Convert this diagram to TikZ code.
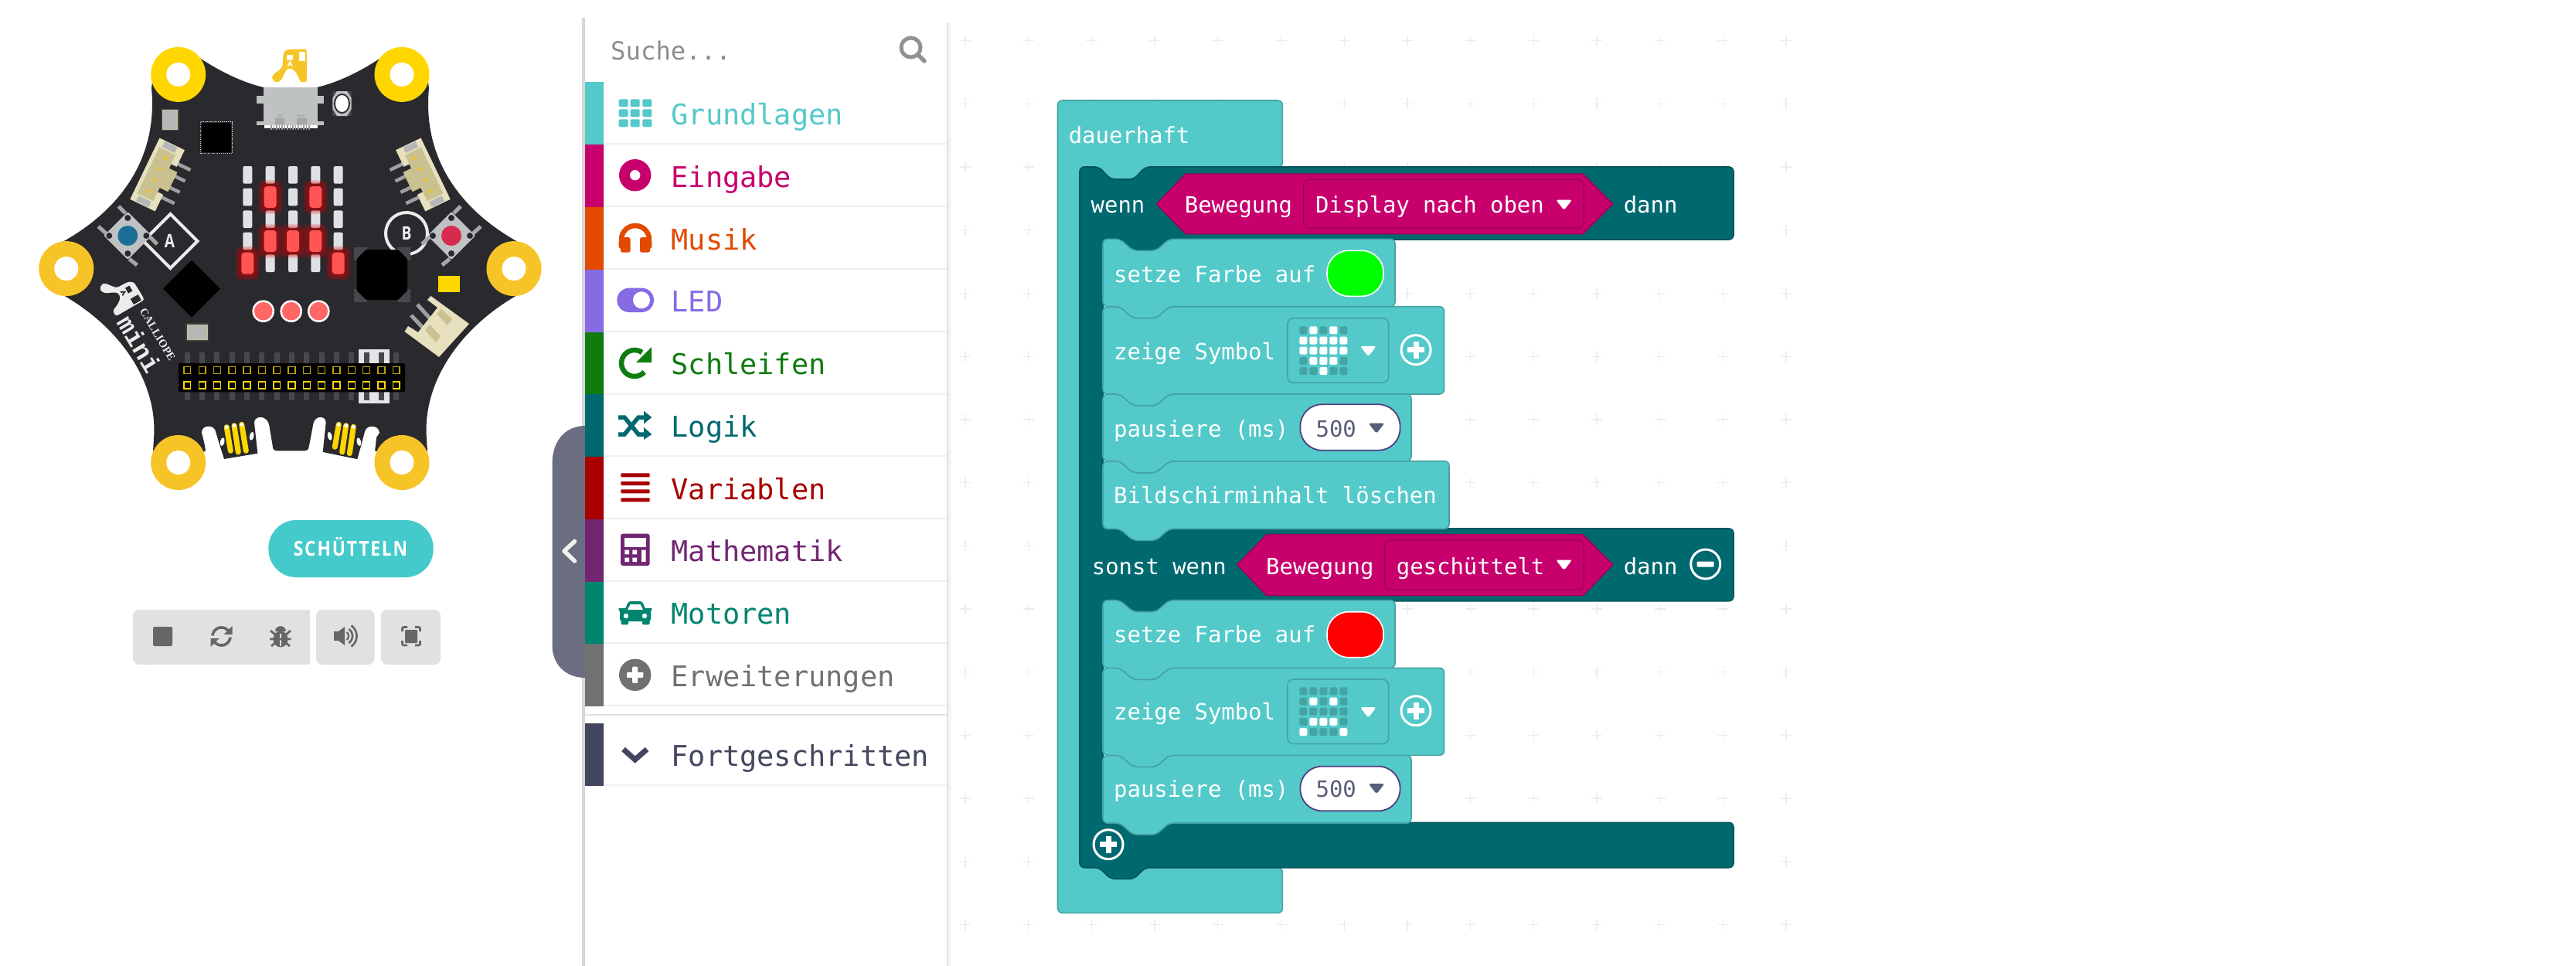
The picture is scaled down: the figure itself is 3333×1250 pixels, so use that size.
\documentclass[tikz,border=0pt]{standalone}
\usepackage{fontspec}
\setmainfont{DejaVu Sans}
\newfontfamily\monof{DejaVu Sans Mono}
\newfontfamily\shakef[LetterSpace=8]{Open Sans}
\newfontfamily\openf{Open Sans}
\newfontfamily\slabf{Liberation Mono}
\newfontfamily\serf{Liberation Serif}
\definecolor{pcb}{HTML}{2A292E}
\definecolor{gold}{HTML}{F7C428}
\definecolor{brightgold}{HTML}{FFD600}
\definecolor{silver}{HTML}{BFC2C3}
\definecolor{ledoffc}{HTML}{E0E1E3}
\definecolor{ledon}{HTML}{FF5555}
\definecolor{cream}{HTML}{E6E0BF}
\definecolor{creamdk}{HTML}{C9C190}
\definecolor{padgray}{HTML}{47484C}
\definecolor{smallgray}{HTML}{B5B7B6}
\definecolor{pillc}{HTML}{45CACB}
\definecolor{toolbg}{HTML}{E0E1E3}
\definecolor{toolic}{HTML}{666666}
\definecolor{tabc}{HTML}{6B6E80}
\definecolor{sepl}{HTML}{EEF1F1}
\definecolor{borderc}{HTML}{D6D6D6}
\definecolor{btnblue}{HTML}{1B6F96}
\definecolor{btnred}{HTML}{D62B4F}
\definecolor{cgrund}{HTML}{54C9C9}
\definecolor{ceing}{HTML}{C7006E}
\definecolor{cmus}{HTML}{E24A00}
\definecolor{cled}{HTML}{866BE4}
\definecolor{cschl}{HTML}{107C10}
\definecolor{clog}{HTML}{006970}
\definecolor{cvar}{HTML}{A80000}
\definecolor{cmath}{HTML}{712672}
\definecolor{cmot}{HTML}{00856F}
\definecolor{cerw}{HTML}{717171}
\definecolor{cfort}{HTML}{434660}
\definecolor{tealedge}{HTML}{45A3A3}
\definecolor{darkedge}{HTML}{00555B}
\definecolor{magedge}{HTML}{9E0058}
\definecolor{gridc}{HTML}{EBEEEE}
\definecolor{numc}{HTML}{575E75}
\definecolor{fieldedge}{HTML}{4F3F80}
\tikzset{
  x=1pt,y=-1pt,
  toolboxtext/.style={anchor=base west,inner sep=0pt,font=\monof\fontsize{36.9}{40}\selectfont},
  blocktext/.style={anchor=base west,inner sep=0pt,text=white,font=\monof\fontsize{28.9}{32}\selectfont},
  stmtblock/.style={fill=cgrund,draw=tealedge,line width=1.6pt,rounded corners=6pt},
  hexblock/.style={fill=ceing,draw=magedge,line width=1.5pt,line join=round},
  dropbox/.style={fill=ceing,draw=magedge,line width=1.5pt,rounded corners=7pt},
  numfield/.style={fill=white,draw=fieldedge,line width=1.8pt,rounded corners=28pt},
}
% plotted arc: style, cx, cy, r, from, to
\newcommand\arcp[6]{\draw[#1] plot[smooth,samples=24,domain=#5:#6] ({#2+#4*cos(\x)},{#3-#4*sin(\x)});}
% statement block: right, top, bottom
\newcommand\stmt[3]{\draw[stmtblock] (1427,#2) -- (1449,#2) -- (1466,#2+15) -- (1496,#2+15) -- (1512.7,#2) -- (#1,#2) -- (#1,#3) -- (1512.7,#3) -- (1496,#3+15) -- (1466,#3+15) -- (1449,#3) -- (1427,#3) -- cycle;}
% dropdown arrow: cx, top, colour
\newcommand\ddarrow[3]{\fill[#3,rounded corners=3pt] (#1-10.5,#2-.5) -- (#1+10.5,#2-.5) -- (#1,#2+13) -- cycle;}
% plus/minus circle
\newcommand\pluscirc[2]{\draw[white,line width=3pt] (#1,#2) circle[radius=19];\fill[white] (#1-11,#2-3.5) rectangle (#1+11,#2+3.5);\fill[white] (#1-3.5,#2-11) rectangle (#1+3.5,#2+11);}
\newcommand\minuscirc[2]{\draw[white,line width=3pt] (#1,#2) circle[radius=19];\fill[white,rounded corners=1pt] (#1-11,#2-3.5) rectangle (#1+11,#2+3.5);}
% symbol field: top y, first row y, pattern
\newcommand\symgrid[3]{%
  \draw[tealedge,line width=1.6pt,fill=cgrund,rounded corners=8pt] (1665.7,#1) rectangle (1796.7,#1+83.5);
  \foreach \v [count=\i from 0] in {#3} {
    \pgfmathtruncatemacro\rr{int(\i/5)}
    \pgfmathtruncatemacro\cc{mod(\i,5)}
    \ifnum\v=1 \def\cellc{white}\else\def\cellc{tealedge}\fi
    \fill[\cellc,rounded corners=2pt] (1681.3+13*\cc,#2-5+13.2*\rr) rectangle (1691.3+13*\cc,#2+5+13.2*\rr);
  }
}
% LED
\newcommand\ledoff[2]{\fill[ledoffc,rounded corners=2pt] (#1-6,#2-11.3) rectangle (#1+6,#2+11.3);}
\newcommand\ledlit[2]{%
  \foreach \e in {8,6.5,5,3.5,2} {\fill[red!85!black,opacity=.15,rounded corners=7pt] (#1-8-\e,#2-14-\e) rectangle (#1+8+\e,#2+14+\e);}
  \fill[ledon,rounded corners=4pt] (#1-8,#2-14) rectangle (#1+8,#2+14);}
% Calliope logo: cx, cy, rotation, scale, fill, window colour
\newcommand\clogo[6]{\begin{scope}[shift={(#1,#2)},rotate=#3,scale=#4]
  \fill[#5,rounded corners=3pt] (-22,13) .. controls (-17,8) and (-9,4) .. (-8.5,-3) -- (-8,-15) -- (-4,-21) -- (11,-21.5) -- (22.7,-21.5) -- (22.7,21.3) -- (14.3,21.3) .. controls (12,14) and (8,6) .. (1,3) .. controls (-4,5) and (-7,11) .. (-9,17) -- (-14,21.5) -- (-19,21.3) -- (-22,17) -- cycle;
  \fill[#6] (12.7,-17.7) rectangle (21,-6.3);
  \fill[#6] (-3,-13.7) rectangle (5,-7.5);
  \fill[#6] (1,-6.5) -- (4.5,0.5) -- (2.5,0.5) -- (1,-2.5) -- (-.5,0.5) -- (-2.5,0.5) -- cycle;
\end{scope}}
% push button: cx, cy, mirror, colour
\newcommand\pushbtn[4]{\begin{scope}[shift={(#1,#2)},xscale=#3]
  \draw[line width=5pt,gray!70] (-12,-38) -- (-3,-29) (-38,-12) -- (-27,-2) (12,38) -- (2,30) (38,11) -- (29,2);
  \fill[silver,rounded corners=2pt] (0,-31) -- (31,0) -- (0,31) -- (-31,0) -- cycle;
  \fill[pcb] (0,-23) circle[radius=4] (0,23) circle[radius=4] (-24,0) circle[radius=4] (24,0) circle[radius=4];
  \fill[#4] (0,0) circle[radius=13];
\end{scope}}
% side connector
\newcommand\sideconn[1]{\begin{scope}[#1]
  \draw[line width=4.5pt,gray!75] (14,-24) -- (36,-24) (14,-8) -- (36,-8) (14,8) -- (36,8) (14,24) -- (36,24);
  \fill[cream] (-18,-44) -- (18,-44) -- (18,-20) -- (10,-20) -- (10,20) -- (18,20) -- (18,44) -- (-18,44) -- cycle;
  \fill[creamdk] (-13,-33) rectangle (10,33);
  \fill[creamdk] (10,-14) rectangle (22,14);
  \fill[smallgray] (-10,-43) rectangle (8,-35);
  \fill[smallgray] (-10,35) rectangle (8,43);
  \fill[gold] (-2,-26) rectangle (2,-22) (-2,-10) rectangle (2,-6) (-2,6) rectangle (2,10) (-2,22) rectangle (2,26);
\end{scope}}
\begin{document}
\begin{tikzpicture}
\useasboundingbox (0,0) rectangle (3333,1250);
\fill[white] (0,0) rectangle (3333,1250);

% ---------- workspace crosses
\foreach \k in {0,...,13} {\foreach \m in {0,...,14} {
  \draw[gridc,line width=1.3pt] (1249+81.7*\k-7,52.7+81.7*\m) -- (1249+81.7*\k+7,52.7+81.7*\m) (1249+81.7*\k,52.7+81.7*\m-7) -- (1249+81.7*\k,52.7+81.7*\m+7);
}}

% ---------- board outline
\fill[pcb] (257,74) .. controls (285,93) and (315,107) .. (341,113) -- (410,113) .. controls (436,107) and (466,93) .. (494,74)
  -- (554,106) -- (555,114) .. controls (546,210) and (601,275) .. (671,313.5) -- (671,381) .. controls (601,420) and (546,490) .. (552,568) -- (553,584)
  -- (520,598) -- (485.7,583.3) -- (471.7,560) .. controls (473,549) and (490,549) .. (491,560) -- (485.7,583.3) -- (461.7,594) -- (417.7,585)
  -- (421.7,546.7) .. controls (422,537) and (406,537) .. (405,550) -- (400,576.7) .. controls (399,583) and (397,583.3) .. (394,583.3) -- (361,583.3) .. controls (354,583.3) and (353,582) .. (352.7,576.7) -- (348.3,550) .. controls (346,537) and (329,537) .. (329,546.7) -- (333.3,586.7) -- (290,594) -- (279.3,560) .. controls (278,549) and (261,549) .. (261,560) -- (266.7,583.3)
  -- (230,598) -- (198,584) -- (199,568) .. controls (205,490) and (150,420) .. (80,381) -- (80,313.5) .. controls (150,275) and (205,210) .. (196,114) -- (197,106) -- cycle;
% white notch cut between outer pad and hole
\fill[white] (264,566) -- (268,602) -- (289,596) -- (279.3,560) .. controls (278,549) and (261,549) .. (261,560) -- cycle;
\fill[white] (487,566) -- (483,602) -- (462,596) -- (471.7,560) .. controls (473,549) and (490,549) .. (491,560) -- cycle;
\fill[white] (289.5,594.5) -- (333.8,587.2) -- (340,610) -- (280,610) -- cycle;
\fill[white] (461.7,594.5) -- (417.4,585.2) -- (411,610) -- (471,610) -- cycle;

% ---------- mounting holes
\foreach \hx/\hy/\hc in {230.7/96.4/brightgold,520/96.4/brightgold,85.8/347.6/gold,665/347.6/gold,230.7/598.5/gold,520/598.5/gold} {
  \fill[\hc] (\hx,\hy) circle[radius=35.5];
  \fill[white] (\hx,\hy) circle[radius=15.5];
}

% ---------- top logo and USB
\clogo{374.2}{85}{0}{1}{gold}{white}
\fill[silver] (332,124) rectangle (419,134);
\fill[silver] (332,156.5) rectangle (419,162);
\fill[white] (342,160) rectangle (411,165.5);
\fill[silver] (341,113) rectangle (411,162);
\fill[gray!70] (356,153) rectangle (368,161) (384,153) rectangle (397,161);
\fill[gray!25!silver] (358,148) rectangle (366,151.5) (385,148) rectangle (394,151.5);
\foreach \u in {350,353.5,...,402} {\fill[gray!80] (\u,162) rectangle (\u+1.6,168);}
% small oval switch
\fill[padgray,rounded corners=2pt] (430.4,118) rectangle (454.7,150);
\fill[silver] (436,118) -- (449,118) -- (454.7,127) -- (454.7,141) -- (449,150) -- (436,150) -- (430.4,141) -- (430.4,127) -- cycle;
\fill[pcb] (442.5,134) ellipse[x radius=10.5,y radius=13];
\fill[white] (442.5,134) ellipse[x radius=8.5,y radius=11];
% small gray part
\fill[padgray] (208.5,140.5) rectangle (231.5,169);
\draw[creamdk,line width=1pt,fill=smallgray] (210.5,142.5) rectangle (229.5,167);
% chip
\draw[gray!40,line width=1.4pt,dash pattern=on 1.2pt off 1.3pt] (259.5,157.5) rectangle (300.5,198.5);
\fill[black,rounded corners=2pt] (261,159) rectangle (299,197);

% ---------- connectors
\sideconn{shift={(203.6,226)},rotate=-25.7}
\sideconn{shift={(547.4,226)},xscale=-1,rotate=-25.7}

% ---------- LED matrix
\foreach \cx in {320.3,349.7,379,408.3,437.7} {\foreach \cy in {226.3,255,283.7,312,340.7} {\ledoff{\cx}{\cy}}}
\ledlit{349.7}{255}\ledlit{408.3}{255}
\ledlit{349.7}{312}\ledlit{379}{312}\ledlit{408.3}{312}
\ledlit{320.3}{340.7}\ledlit{437.7}{340.7}
% three red dots
\foreach \dx in {340.7,376.7,412.3} {\fill[white] (\dx,402.7) circle[radius=14.3];\fill[ledon!90!white] (\dx,402.7) circle[radius=11.8];}

% ---------- B ring, A diamond, buttons
\draw[white!92!black,line width=4pt] (526,302) circle[radius=27];
\draw[white!92!black,line width=4pt,line join=miter] (220.5,277) -- (255.5,312) -- (220.5,347) -- (185.5,312) -- cycle;
\pushbtn{165.3}{305}{1}{btnblue}
\pushbtn{584}{305}{-1}{btnred}
\node[inner sep=0pt,text=white!92!black,font=\openf\bfseries\fontsize{24}{24}\selectfont] (labelA) at (219.5,312) {\scalebox{.8}[1]{A}};
\node[inner sep=0pt,text=white!92!black,font=\openf\bfseries\fontsize{24}{24}\selectfont] (labelB) at (526,302) {\scalebox{.8}[1]{B}};

% black diamond and octagon
\fill[black] (248,336.7) -- (285,373.7) -- (248,410.7) -- (211,373.7) -- cycle;
\fill[padgray] (458,320) rectangle (475,337) (514,320) rectangle (531,337) (458,374) rectangle (475,391) (514,374) rectangle (531,391);
\fill[black,rounded corners=1pt] (473.5,323) -- (515,323) -- (527,335) -- (527,376) -- (515,388) -- (473.5,388) -- (461.5,376) -- (461.5,335) -- cycle;
% yellow square
\fill[brightgold] (567,356.5) rectangle (595,378.4);
% bottom right connector
\draw[line width=5pt,gray!75] (540,394) -- (558,414) (532,408) -- (548,425);
\fill[cream] (557.4,383) -- (607,419) -- (568,462) -- (523.5,429) -- (528,422) -- (541,430) -- (566,398) -- (553,388) -- cycle;
\fill[creamdk] (565,406) -- (571,400) -- (585,413) -- (579,421) -- cycle;
\fill[creamdk] (550,427) -- (556,420) -- (570,435) -- (564,443) -- cycle;

% board print
\clogo{157}{379}{-60}{1}{white!92!black}{pcb}
\node[inner sep=0pt,rotate=-59,text=white!92!black,font=\serf\bfseries\fontsize{14.5}{15}\selectfont] (callioptext) at (204,433) {CALLIOPE};
\node[inner sep=0pt,rotate=-59,text=white!92!black,font=\slabf\bfseries\fontsize{33}{33}\selectfont] (minitext) at (181,445) {mini};

% small gray part 2
\fill[padgray!70!pcb] (240,418) rectangle (270,442);
\draw[creamdk,line width=1pt,fill=smallgray] (242.5,420.5) rectangle (268,439.5);

% ---------- header
\fill[ledoffc!90!white] (464,451.7) rectangle (504,470);
\fill[ledoffc!90!white] (464,507) rectangle (504,522);
\foreach \i in {0,...,14} {
  \fill[padgray] (238.8+19.32*\i,455.7) rectangle (245.8+19.32*\i,471);
  \fill[padgray] (238.8+19.32*\i,506) rectangle (245.8+19.32*\i,518.3);
}
\fill[black,rounded corners=1.5pt] (231,470) rectangle (524,507.3);
\foreach \i in {0,...,14} {
  \draw[brightgold!75!black,line width=1.4pt] (237.9+19.32*\i,474.6) rectangle (246.7+19.32*\i,483.4);
  \draw[brightgold,line width=1.4pt] (237.9+19.32*\i,494) rectangle (246.7+19.32*\i,502.8);
}

% ---------- bottom touch pads
\foreach \ax/\ay/\bx/\by in {293.3/552.7/298.3/583.3,303/550.7/308.3/585,312.7/549.3/318.3/583.3,438.3/549.3/433.3/578.3,447.7/550.7/442.7/585,457.3/552.3/452.3/586.7} {
  \draw[brightgold,line width=7pt,line cap=round] (\ax,\ay) -- (\bx,\by);
  \fill[white] (\ax,\ay) circle[radius=2.4];
}
\foreach \ox/\oy/\ot in {287.7/571.7/-12,325.7/564.3/-12,426.7/564.3/12,464.3/571.7/12} {
  \fill[white,rotate around={\ot:(\ox,\oy)}] (\ox,\oy) ellipse[x radius=2.8,y radius=5.5];
}

% ---------- simulator controls
\fill[pillc,rounded corners=36pt] (347.4,673) rectangle (560.7,747);
\node[anchor=base,inner sep=0pt,text=white,font=\shakef\bfseries\fontsize{26.5}{28}\selectfont] (shake) at (453.5,719.3) {\scalebox{.86}[1]{SCHÜTTELN}};
\fill[toolbg] (190,789) rectangle (401,860);
\fill[toolbg,rounded corners=8pt] (172,789) rectangle (200,860);
\fill[toolbg,rounded corners=8pt] (409,789) rectangle (484.7,860);
\fill[toolbg,rounded corners=8pt] (493,789) rectangle (570,860);
% stop
\fill[toolic,rounded corners=2pt] (198,811) rectangle (223,836);
% refresh
\arcp{toolic,line width=3.6pt}{286.5}{823.5}{11.5}{175}{35}
\arcp{toolic,line width=3.6pt}{286.5}{823.5}{11.5}{355}{215}
\fill[toolic] (300.5,810) -- (300.5,821) -- (289.5,821) -- cycle;
\fill[toolic] (272.5,837) -- (272.5,826) -- (283.5,826) -- cycle;
% bug
\fill[toolic] (356,817) .. controls (356,808) and (370,808) .. (370,817) -- cycle;
\fill[toolic] (363,827) ellipse[x radius=9.5,y radius=10.5];
\draw[toolbg,line width=1.4pt] (363,820) -- (363,836);
\draw[toolic,line width=2.8pt] (350,816) -- (356,821) (376,816) -- (370,821) (349,827) -- (376.5,827) (351,836) -- (356,832) (375,836) -- (370,832);
% speaker
\fill[toolic] (432,817) -- (438,817) -- (446,811) -- (446,835) -- (438,829) -- (432,829) -- cycle;
\arcp{toolic,line width=2.4pt}{445}{823}{6}{-55}{55}
\arcp{toolic,line width=2.6pt}{445}{823}{11}{-55}{55}
\arcp{toolic,line width=2.6pt}{445}{823}{16.5}{-55}{55}
% screenshot
\fill[toolic,rounded corners=1pt] (524,815) rectangle (540,832);
\draw[toolic,line width=2.8pt,rounded corners=2pt] (520.5,817) -- (520.5,811.5) -- (527,811.5) (537,811.5) -- (543.5,811.5) -- (543.5,817) (543.5,829) -- (543.5,835) -- (537,835) (527,835) -- (520.5,835) -- (520.5,829);

% ---------- sidebar frame
\fill[borderc] (753.3,23.3) rectangle (757,1250);
\fill[tabc] (757.6,551) .. controls (730,551) and (714.5,572) .. (714.5,600) -- (714.5,835) .. controls (714.5,858) and (730,877) .. (757.6,877) -- cycle;
\draw[white!94!black,line width=5.5pt,line cap=round,line join=round] (743.5,700.5) -- (730,713) -- (743.5,726);
\fill[gray!25] (1225,29) rectangle (1227,1250);
\fill[gray!8] (1227,29) rectangle (1231,1250);

% search row
\node[anchor=base west,inner sep=0pt,text=black!45,font=\monof\fontsize{32.3}{34}\selectfont] (searchtext) at (790,77) {Suche...};
\draw[black!43,line width=5pt] (1178.5,61.5) circle[radius=12.5];
\draw[black!43,line width=5.5pt,line cap=round] (1188,71) -- (1196,79);

% ---------- toolbox strips and separators
\fill[cgrund] (757,106) rectangle (781,187);
\fill[ceing] (757,187) rectangle (781,268);
\fill[cmus] (757,268) rectangle (781,349);
\fill[cled] (757,349) rectangle (781,430);
\fill[cschl] (757,430) rectangle (781,510);
\fill[clog] (757,510) rectangle (781,591);
\fill[cvar] (757,591) rectangle (781,672);
\fill[cmath] (757,672) rectangle (781,753);
\fill[cmot] (757,753) rectangle (781,833);
\fill[cerw] (757,833) rectangle (781,914);
\fill[cfort] (757,936) rectangle (781,1017);
\foreach \sy in {186,267,348,429,509.5,590,671,752,832,913,1016} {\fill[sepl] (781,\sy-1) rectangle (1225,\sy+1);}
\fill[sepl!94!black] (757,924) rectangle (1225,926);

% ---------- toolbox labels
\node[toolboxtext,text=cgrund] (tGrund) at (868.5,161.7) {Grundlagen};
\node[toolboxtext,text=ceing] (tEing) at (868.5,242) {Eingabe};
\node[toolboxtext,text=cmus] (tMus) at (868.5,323) {Musik};
\node[toolboxtext,text=cled] (tLed) at (868.5,403) {LED};
\node[toolboxtext,text=cschl] (tSchl) at (868.5,484) {Schleifen};
\node[toolboxtext,text=clog] (tLog) at (868.5,565.7) {Logik};
\node[toolboxtext,text=cvar] (tVar) at (868.5,646.7) {Variablen};
\node[toolboxtext,text=cmath] (tMath) at (868.5,726.7) {Mathematik};
\node[toolboxtext,text=cmot] (tMot) at (868.5,807) {Motoren};
\node[toolboxtext,text=cerw] (tErw) at (868.5,888) {Erweiterungen};
\node[toolboxtext,text=cfort] (tFort) at (868.5,991.7) {Fortgeschritten};

% ---------- toolbox icons
% grid
\foreach \gx in {800.7,815.7,831.3} {\foreach \gy in {128.3,141.3,154.3} {\fill[cgrund,rounded corners=1.5pt] (\gx,\gy) rectangle (\gx+12,\gy+10);}}
% target
\fill[ceing] (821.7,226.7) circle[radius=20.7];
\fill[white] (821.7,226.7) circle[radius=6.7];
% headphones
\arcp{cmus,line width=6.5pt}{822}{310}{18}{180}{0}
\fill[cmus,rounded corners=3pt] (800.7,309) rectangle (807,322);
\fill[cmus,rounded corners=3pt] (836.7,309) rectangle (843.3,322);
\fill[cmus,rounded corners=2.5pt] (803,307) rectangle (815.5,326.7);
\fill[cmus,rounded corners=2.5pt] (828,307) rectangle (841,326.7);
% toggle
\fill[cled,rounded corners=15.6pt] (798.3,372.7) rectangle (846,404);
\fill[white] (830,388.3) circle[radius=11];
% redo
\arcp{cschl,line width=6.5pt}{821}{470}{17}{55}{318}
\fill[cschl] (843,449) -- (843,469) -- (823,469) -- cycle;
% shuffle
\draw[clog,line width=5.5pt] (800,540) -- (808,540) -- (826,562) -- (835,562) (800,562) -- (808,562) -- (826,540) -- (835,540);
\fill[clog] (833,531.7) -- (843.3,540) -- (833,548.5) -- cycle (833,553) -- (843.3,562) -- (833,569) -- cycle;
% bars
\foreach \by in {612.3,623,633.3,644.3} {\fill[cvar,rounded corners=1pt] (803.3,\by) rectangle (840.7,\by+5);}
% calculator
\fill[cmath,rounded corners=3pt] (803,690.7) rectangle (840.7,732);
\fill[white] (808.3,696) rectangle (836,707.7);
\fill[white] (808.3,711.7) rectangle (814,717.3) (818.3,711.7) rectangle (824,717.3) (808.3,721.7) rectangle (814,727) (818.3,721.7) rectangle (824,727) (830,711.7) rectangle (835.7,727);
% car
\fill[cmot,rounded corners=3pt] (807,793) -- (813,778) -- (831,778) -- (837,793) -- cycle;
\fill[white] (812,789) -- (815.5,782) -- (828.5,782) -- (832,789) -- cycle;
\fill[cmot,rounded corners=3pt] (802,789) rectangle (842,804);
\fill[cmot] (800.7,787) rectangle (810,790.5) (834,787) rectangle (843.3,790.5);
\fill[cmot,rounded corners=1.5pt] (803.5,800) rectangle (813,808.3) (831,800) rectangle (840.5,808.3);
\fill[white] (810,797) circle[radius=3.2] (834,797) circle[radius=3.2];
% plus
\fill[cerw] (821.7,873.3) circle[radius=20.7];
\fill[white,rounded corners=1pt] (811,869.8) rectangle (832.4,876.8) (818.2,862.7) rectangle (825.2,883.9);
% chevron
\draw[cfort,line width=7pt] (806.5,969.5) -- (821.7,983) -- (837,969.5);

% ---------- blocks
% outer forever block
\draw[stmtblock] (1368.5,130) -- (1659.4,130) -- (1659.4,216) -- (1482,216) -- (1467,232) -- (1437,232) -- (1422,216) -- (1397,216) -- (1397,1122.7) -- (1659.4,1122.7) -- (1659.4,1181.3) -- (1368.5,1181.3) -- cycle;
% dark if-else block
\draw[fill=clog,draw=darkedge,line width=1.6pt,rounded corners=6pt] (1397,216) -- (1422,216) -- (1437,232) -- (1467,232) -- (1482,216) -- (2243,216) -- (2243,310) -- (1512.7,310) -- (1496,325) -- (1466,325) -- (1449,310) -- (1427,310) -- (1427,684) -- (2243,684) -- (2243,777.7) -- (1512.7,777.7) -- (1496,792.7) -- (1466,792.7) -- (1449,777.7) -- (1427,777.7) -- (1427,1064.3) -- (2243,1064.3) -- (2243,1122.7) -- (1482,1122.7) -- (1467,1137.3) -- (1437,1137.3) -- (1422,1122.7) -- (1397,1122.7) -- cycle;
% statements, lowest first so each tab sits over the next notch
\stmt{1875}{596.7}{684.3}
\stmt{1826}{510}{596.7}
\stmt{1868.5}{396.7}{510}
\stmt{1805}{309.3}{396.7}
\stmt{1826}{977.3}{1065}
\stmt{1868.5}{864.3}{977.3}
\stmt{1805}{776.7}{864.3}

% hexagons and dropdowns
\draw[hexblock] (1496.4,264) -- (1534,225) -- (2048,225) -- (2086.7,264) -- (2048,302.7) -- (1534,302.7) -- cycle;
\draw[dropbox] (1686.7,232.3) rectangle (2049,295.3);
\ddarrow{2023.6}{259}{white}
\draw[hexblock] (1600.6,730.7) -- (1638.8,691.7) -- (2048,691.7) -- (2086.7,730.7) -- (2048,770.7) -- (1638.8,770.7) -- cycle;
\draw[dropbox] (1791.5,699) rectangle (2049,763.3);
\ddarrow{2023.6}{725}{white}

% colour fields
\draw[white,line width=1.6pt,fill=green,rounded corners=28pt] (1717,324.3) rectangle (1790,383.3);
\draw[white,line width=1.6pt,fill=red,rounded corners=28pt] (1717,791.7) rectangle (1790,850.7);

% symbol fields
\symgrid{411.7}{427.3}{0,1,0,1,0,1,1,1,1,1,1,1,1,1,1,0,1,1,1,0,0,0,1,0,0}
\ddarrow{1770.3}{448.3}{white}
\pluscirc{1832}{452.7}
\symgrid{879}{894.3}{0,0,0,0,0,0,1,0,1,0,0,0,0,0,0,0,1,1,1,0,1,0,0,0,1}
\ddarrow{1770.3}{915.7}{white}
\pluscirc{1832}{919.7}

% number fields
\draw[numfield] (1682.4,523.3) rectangle (1811.5,582.7);
\ddarrow{1781}{548}{numc}
\draw[numfield] (1682.4,991.7) rectangle (1811.5,1049.3);
\ddarrow{1781}{1014.5}{numc}

% side buttons
\minuscirc{2206.7}{730}
\pluscirc{1434}{1092.7}

% block labels
\node[blocktext] (bDauer) at (1382.6,185) {dauerhaft};
\node[blocktext] (bWenn) at (1411.5,275) {wenn};
\node[blocktext] (bBew1) at (1532.7,275) {Bewegung};
\node[blocktext] (bDisp) at (1701.8,275) {Display nach oben};
\node[blocktext] (bDann1) at (2100.6,275) {dann};
\node[blocktext] (bSetze1) at (1441,365) {setze Farbe auf};
\node[blocktext] (bZeige1) at (1441,465) {zeige Symbol};
\node[blocktext] (bPause1) at (1441,565) {pausiere (ms)};
\node[blocktext,text=numc] (bNum1) at (1702.4,565) {500};
\node[blocktext] (bClear) at (1441,651.7) {Bildschirminhalt löschen};
\node[blocktext] (bSonst) at (1412.7,743.3) {sonst wenn};
\node[blocktext] (bBew2) at (1638,743.3) {Bewegung};
\node[blocktext] (bGesch) at (1806.7,743.3) {geschüttelt};
\node[blocktext] (bDann2) at (2100.6,743.3) {dann};
\node[blocktext] (bSetze2) at (1441,831.7) {setze Farbe auf};
\node[blocktext] (bZeige2) at (1441,931.7) {zeige Symbol};
\node[blocktext] (bPause2) at (1441,1031.7) {pausiere (ms)};
\node[blocktext,text=numc] (bNum2) at (1702.4,1031.7) {500};
\end{tikzpicture}
\end{document}
